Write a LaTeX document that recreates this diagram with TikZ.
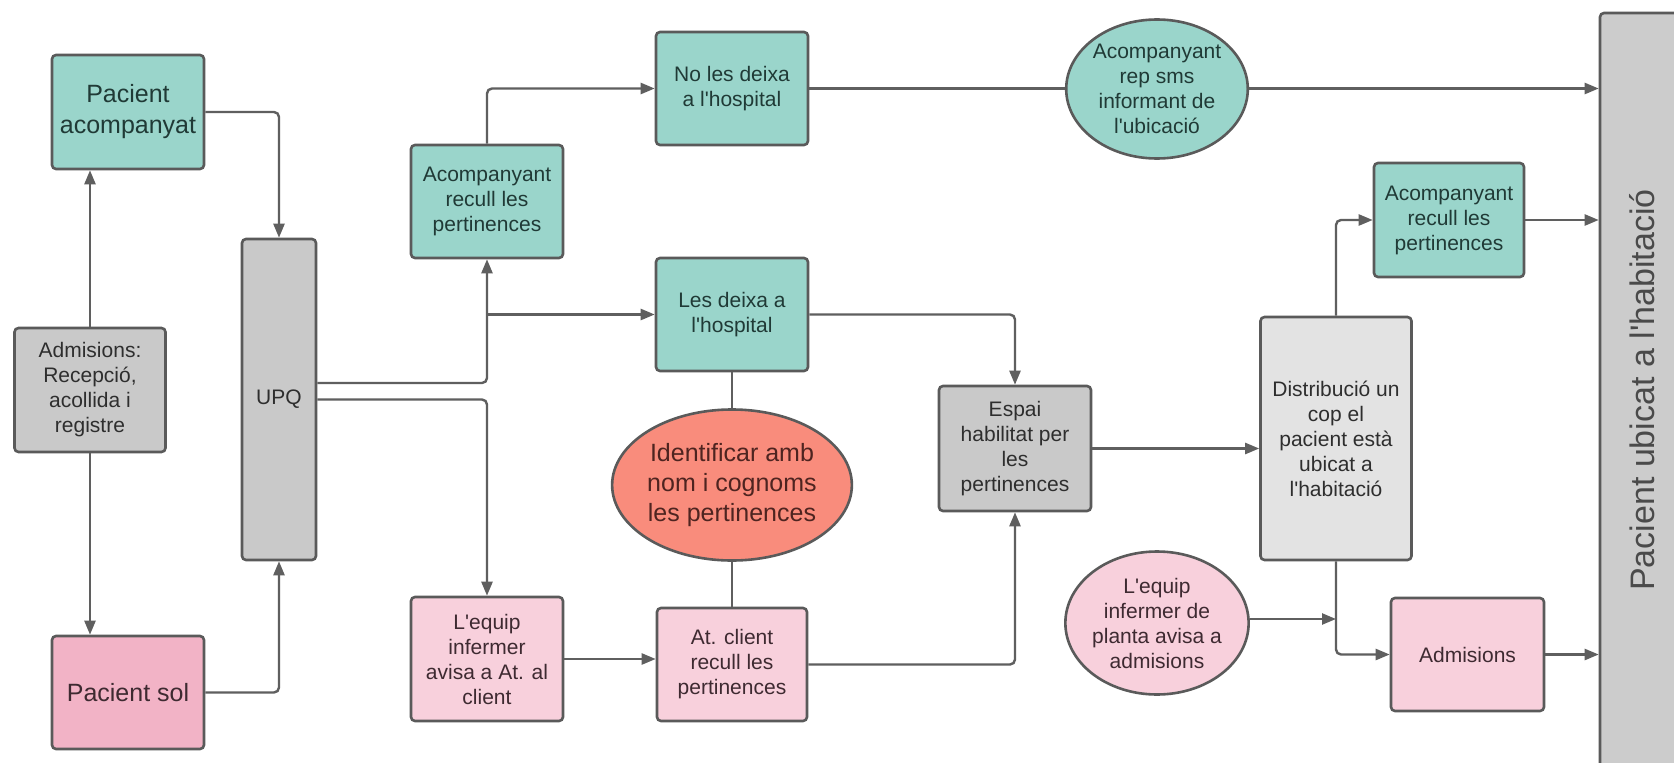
\documentclass[tikz,border=0pt]{standalone}
\usepackage{fontspec}
\newfontfamily\lsans{Liberation Sans}
\usetikzlibrary{shapes.geometric,arrows.meta,calc}
\definecolor{cTeal}{HTML}{9AD5CB}
\definecolor{cPinkD}{HTML}{F2B3C6}
\definecolor{cPinkL}{HTML}{F8D0DC}
\definecolor{cGray}{HTML}{C9C9C9}
\definecolor{cGrayL}{HTML}{E3E3E3}
\definecolor{cSalmon}{HTML}{F98C7C}
\definecolor{cBorder}{HTML}{5A5A5A}
\definecolor{cLine}{HTML}{5F5F5F}
\definecolor{cText}{HTML}{2E2E2E}
\definecolor{cTextT}{HTML}{203A36}
\definecolor{cTextP}{HTML}{3E2A31}
\definecolor{cTextS}{HTML}{4E2420}
\definecolor{cBar}{HTML}{CCCCCC}
\definecolor{cBarText}{HTML}{4A4A4A}
\begin{document}
\begin{tikzpicture}[x=1pt,y=-1pt,
  box/.style={draw=cBorder,line width=2.6pt,rounded corners=4pt,inner sep=0pt,align=center,
    font=\lsans\fontsize{21}{25}\selectfont,text=cText},
  oval/.style={ellipse,draw=cBorder,line width=2.6pt,inner sep=0pt,align=center,
    font=\lsans\fontsize{21}{25}\selectfont,text=cText},
  big/.style={font=\lsans\fontsize{25}{31}\selectfont},
  tl/.style={fill=cTeal,text=cTextT},
  pk/.style={fill=cPinkL,text=cTextP},
  arr/.style={draw=cLine,line width=2.4pt,rounded corners=5pt,-{Triangle[length=14pt,width=11pt]}},
  ln/.style={draw=cLine,line width=2.4pt,rounded corners=5pt}]
\useasboundingbox (0,0) rectangle (1674,763);
\fill[white] (0,0) rectangle (1674,763);

% final bar
\node[draw=cBorder,line width=2.6pt,rounded corners=4pt,fill=cBar,inner sep=0pt,
  minimum width=100pt,minimum height=776pt] (bar) at (1650,401) {};
\node[rotate=90,font=\lsans\fontsize{34}{40}\selectfont,text=cBarText,inner sep=0pt] (bartext) at (1642,390) {Pacient ubicat a l'habitació};

% boxes
\node[box,big,tl,minimum width=152pt,minimum height=114pt] (pa) at (128,112) {Pacient\\acompanyat};
\node[box,fill=cGray,minimum width=151pt,minimum height=124pt] (adm) at (90,390) {Admisions:\\Recepció,\\acollida i\\registre};
\node[box,big,fill=cPinkD,text=cTextP,minimum width=152pt,minimum height=113pt] (ps) at (128,692.5) {Pacient sol};
\node[box,fill=cGray,minimum width=74pt,minimum height=321pt] (upq) at (279,399.5) {UPQ};
\node[box,tl,minimum width=152pt,minimum height=113pt] (acl) at (487,201.5) {Acompanyant\\recull les\\pertinences};
\node[box,pk,minimum width=152pt,minimum height=124pt] (leq) at (487,659) {L'equip\\infermer\\avisa a At. al\\client};
\node[box,tl,minimum width=152pt,minimum height=113pt] (nld) at (732,88.5) {No les deixa\\a l'hospital};
\node[box,tl,minimum width=152pt,minimum height=113pt] (ld) at (732,314.5) {Les deixa a\\l'hospital};
\node[box,pk,minimum width=150pt,minimum height=113pt] (atc) at (732,664.5) {At. client\\recull les\\pertinences};
\node[box,fill=cGray,minimum width=152pt,minimum height=125pt] (esp) at (1015,448.5) {Espai\\habilitat per\\les\\pertinences};
\node[box,fill=cGrayL,minimum width=151pt,minimum height=243pt] (dist) at (1336,438.5) {Distribució un\\cop el\\pacient està\\ubicat a\\l'habitació};
\node[box,tl,minimum width=150pt,minimum height=114pt] (acr) at (1449,220) {Acompanyant\\recull les\\pertinences};
\node[box,pk,minimum width=153pt,minimum height=113pt] (adr) at (1467.5,654.5) {Admisions};

% ellipses
\node[oval,tl,minimum width=172pt,minimum height=139pt] (sms) at (1157,89) {Acompanyant\\rep sms\\informant de\\l'ubicació};
\node[oval,pk,minimum width=172pt,minimum height=143pt] (pl) at (1157,623) {L'equip\\infermer de\\planta avisa a\\admisions};
\node[oval,fill=cSalmon,text=cTextS,minimum width=228pt,minimum height=151pt,font=\lsans\fontsize{25}{30}\selectfont] (id) at (732,485) {Identificar amb\\nom i cognoms\\les pertinences};

% connectors
\draw[arr] (pa.east) -| (upq.north);
\draw[arr] (adm.north) -- (adm.north |- pa.south);
\draw[arr] (adm.south) -- (adm.south |- ps.north);
\draw[arr] (ps.east) -| (upq.south);
\draw[arr] ([yshift=16.5pt]upq.east) -| (acl.south);
\draw[arr] (acl.south |- ld.west) -- (ld.west);
\draw[arr] (upq.east) -| (leq.north);
\draw[arr] (acl.north) |- (nld.west);
\draw[ln] (nld.east) -- (nld.east -| sms.west);
\draw[arr] (nld.east -| sms.east) -- (nld.east -| bar.west);
\draw[arr] (ld.east) -| (esp.north);
\draw[ln] (ld.south) -- (id.north);
\draw[ln] (id.south) -- (atc.north);
\draw[arr] (leq.east) -- (leq.east -| atc.west);
\draw[arr] (atc.east) -| (esp.south);
\draw[arr] (esp.east) -- (esp.east -| dist.west);
\draw[arr] (dist.north) |- (acr.west);
\draw[arr] (acr.east) -- (acr.east -| bar.west);
\draw[arr] (dist.south) |- (adr.west);
\draw[arr] ([yshift=4pt]pl.east) -- ([yshift=4pt]pl.east -| dist.south);
\draw[arr] (adr.east) -- (adr.east -| bar.west);
\end{tikzpicture}
\end{document}
